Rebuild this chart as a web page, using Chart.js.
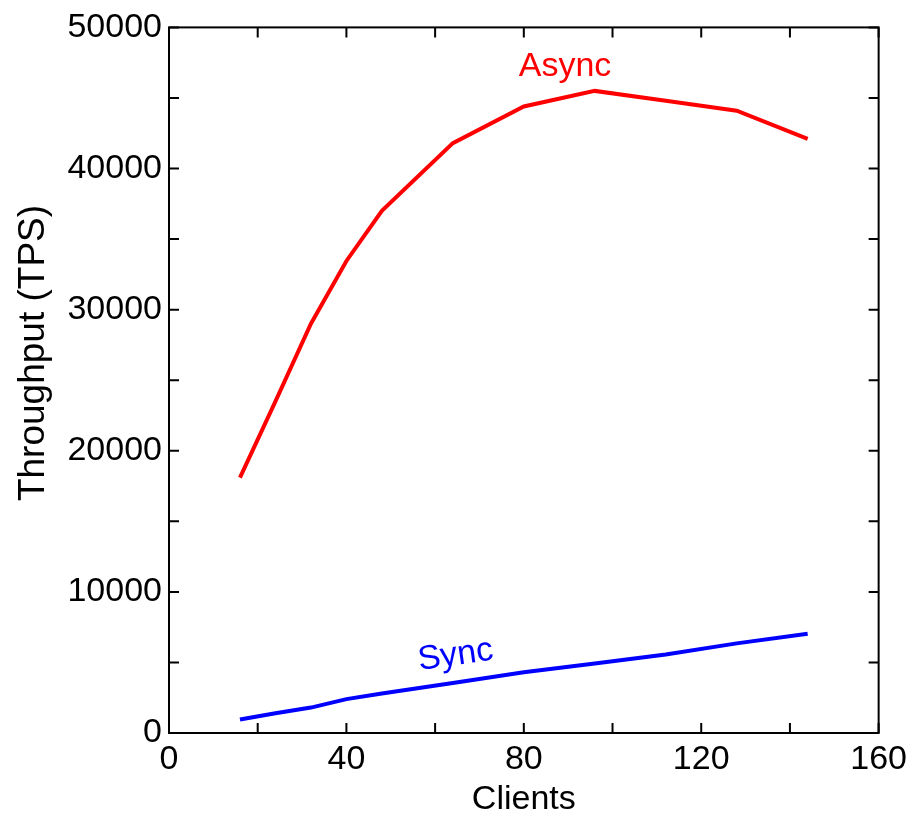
<!DOCTYPE html>
<html>
<head>
<meta charset="utf-8">
<script src="https://cdn.jsdelivr.net/npm/chart.js@4.4.0/dist/chart.umd.min.js"></script>
<style>
  html, body { margin: 0; padding: 0; background: #fff; }
  #wrap { width: 913px; height: 820px; }
</style>
</head>
<body>
<div id="wrap"><canvas id="myChart" width="913" height="820"></canvas></div>
<script>
// Dữ liệu
var clients = [16, 24, 32, 40, 48, 64, 80, 96, 112, 128, 144];
var asyncTps = [18100, 23500, 29000, 33450, 37000, 41800, 44400, 45500, 44800, 44100, 42100];
var syncTps = [950, 1400, 1800, 2400, 2800, 3550, 4300, 4930, 5560, 6350, 7040];

var xTickStep = 20;
var xLabelStep = 40;
var yTickStep = 5000;
var yLabelStep = 10000;

var fontFamily = "'Liberation Sans', Arial, sans-serif";

function toPoints(xs, ys) {
  return xs.map(function (x, i) {
    return { x: x, y: ys[i] };
  });
}

// Vẽ khung, vạch chia hướng vào trong, nhãn đường và tiêu đề trục y
var frameTicks = {
  id: "frameTicks",
  afterDraw: function (chart) {
    var ctx = chart.ctx;
    var a = chart.chartArea;
    var xs = chart.scales.x;
    var ys = chart.scales.y;
    var len = 10;
    ctx.save();
    ctx.strokeStyle = "#000";
    ctx.lineWidth = 2;
    ctx.strokeRect(a.left, a.top, a.right - a.left, a.bottom - a.top);
    ctx.beginPath();
    xs.ticks.forEach(function (t) {
      var px = xs.getPixelForValue(t.value);
      ctx.moveTo(px, a.bottom);
      ctx.lineTo(px, a.bottom - len);
      ctx.moveTo(px, a.top);
      ctx.lineTo(px, a.top + len);
    });
    ys.ticks.forEach(function (t) {
      var py = ys.getPixelForValue(t.value);
      ctx.moveTo(a.left, py);
      ctx.lineTo(a.left + len, py);
      ctx.moveTo(a.right, py);
      ctx.lineTo(a.right - len, py);
    });
    ctx.stroke();

    ctx.font = "34px " + fontFamily;
    ctx.textAlign = "center";
    ctx.textBaseline = "middle";
    ctx.fillStyle = "#ff0000";
    ctx.fillText("Async", xs.getPixelForValue(89.3), ys.getPixelForValue(47250));
    ctx.save();
    ctx.translate(xs.getPixelForValue(64.6), ys.getPixelForValue(5500));
    ctx.rotate(-8 * Math.PI / 180);
    ctx.fillStyle = "#0000ff";
    ctx.fillText("Sync", 0, 0);
    ctx.restore();

    // Tiêu đề trục y
    ctx.save();
    ctx.translate(34, 353);
    ctx.rotate(-Math.PI / 2);
    ctx.font = "37px " + fontFamily;
    ctx.fillStyle = "#000";
    ctx.fillText("Throughput (TPS)", 0, 0);
    ctx.restore();
    ctx.restore();
  }
};

var ctx = document.getElementById("myChart").getContext("2d");
var chart = new Chart(ctx, {
  type: "line",
  data: {
    datasets: [
      {
        label: "Async",
        data: toPoints(clients, asyncTps),
        borderColor: "#ff0000",
        borderWidth: 4,
        pointRadius: 0,
        tension: 0,
        fill: false
      },
      {
        label: "Sync",
        data: toPoints(clients, syncTps),
        borderColor: "#0000ff",
        borderWidth: 4,
        pointRadius: 0,
        tension: 0,
        fill: false
      }
    ]
  },
  options: {
    responsive: false,
    animation: false,
    layout: { padding: { top: 23, right: 33, left: 0, bottom: 0 } },
    plugins: {
      legend: { display: false },
      tooltip: { enabled: false }
    },
    scales: {
      x: {
        type: "linear",
        min: 0,
        max: 160,
        afterFit: function (s) { s.height = 87; },
        grid: { display: false, drawTicks: false },
        border: { display: false },
        ticks: {
          stepSize: xTickStep,
          autoSkip: false,
          maxRotation: 0,
          padding: 6,
          color: "#000",
          font: { size: 34, family: fontFamily },
          callback: function (v) { return v % xLabelStep === 0 ? v : ""; }
        },
        title: {
          display: true,
          text: "Clients",
          color: "#000",
          font: { size: 34, family: fontFamily },
          padding: { top: 0, bottom: 0 }
        }
      },
      y: {
        type: "linear",
        min: 0,
        max: 50000,
        afterFit: function (s) { s.width = 169; },
        grid: { display: false, drawTicks: false },
        border: { display: false },
        ticks: {
          stepSize: yTickStep,
          autoSkip: false,
          padding: 7,
          color: "#000",
          font: { size: 34, family: fontFamily },
          callback: function (v) { return v % yLabelStep === 0 ? v : ""; }
        }
      }
    }
  },
  plugins: [frameTicks]
});
</script>
</body>
</html>
